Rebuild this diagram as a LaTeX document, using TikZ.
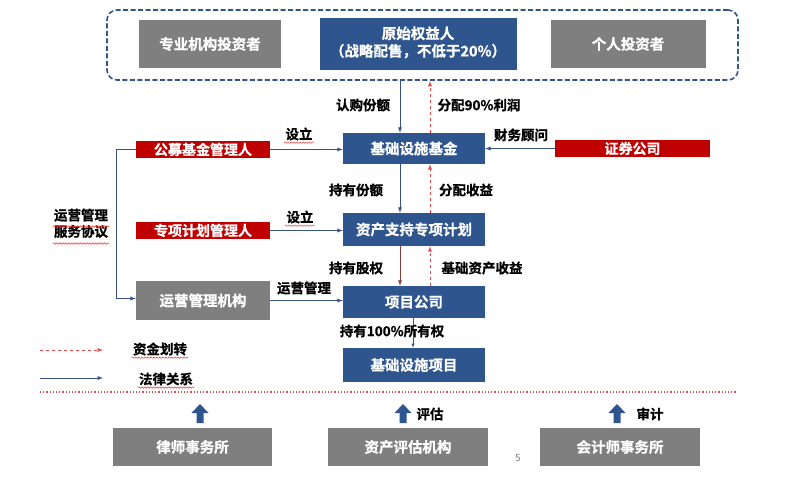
\documentclass[tikz,border=0pt]{standalone}
\usepackage{fontspec}
\setmainfont{Noto Sans CJK SC}[BoldFont={Noto Sans CJK SC Bold}, BoldFeatures={FakeBold=0.8}]
\usetikzlibrary{shapes,arrows}
\usetikzlibrary{calc,decorations.pathmorphing}
\definecolor{myblue}{RGB}{47,85,143}
\definecolor{mygray}{RGB}{127,127,127}
\definecolor{myred}{RGB}{192,0,0}
\definecolor{lawblue}{RGB}{55,80,135}
\definecolor{cashred}{RGB}{222,75,75}
\definecolor{myrust}{RGB}{140,62,58}

\begin{document}
\begin{tikzpicture}[x=1pt,y=-1pt]

\tikzstyle{blue_block} = [draw=none, fill=myblue, text=white, font=\bfseries\fontsize{14.5}{17}\selectfont,
inner sep=0, minimum width=142, minimum height=32]
\tikzstyle{gray_block} = [draw=none, fill=mygray, text=white, font=\bfseries\fontsize{14.5}{17}\selectfont,
inner sep=0, minimum width=142, minimum height=48]
\tikzstyle{red_block} = [draw=none, fill=myred, text=white, font=\bfseries\fontsize{14}{15}\selectfont,
inner sep=0, minimum width=134, minimum height=17]
\tikzstyle{frame} = [draw=myblue, dash pattern=on 5pt off 2.5pt, line width=1.6, rounded corners=10, minimum width=631, minimum height=70]
\tikzstyle{lbl} = [font=\bfseries\fontsize{13.5}{16}\selectfont, inner sep=1]
\tikzstyle{law} = [draw=lawblue, line width=0.9, -latex]
\tikzstyle{own} = [draw=myrust, line width=0.9, -latex]
\tikzstyle{cash} = [draw=cashred, dashed, line width=0.9, -latex]
\tikzstyle{squiggle} = [draw=red!85, line width=0.5, decorate, decoration={snake, amplitude=0.7, segment length=3}]

\useasboundingbox (0,0) rectangle (800,486);

% investors
\node [frame] (tz) at (422.5,45) {};
\node [gray_block] (zy) at (210,44) {专业机构投资者};
\node [blue_block, minimum width=197, minimum height=52] (ys) at (418,44)
  {\begin{tabular}{c} 原始权益人\\ （战略配售，不低于20\%）\end{tabular}};
\node [gray_block, minimum width=155] (gr) at (628,44) {个人投资者};

% main chain
\node [blue_block, minimum height=31] (fund) at (414,148.5) {基础设施基金};
\node [blue_block, minimum height=33] (abs) at (414,229.5) {资产支持专项计划};
\node [blue_block] (xm) at (414,302) {项目公司};
\node [blue_block, minimum height=34] (jc) at (414,365) {基础设施项目};

% managers
\node [red_block] (gm) at (203,149.5) {公募基金管理人};
\node [red_block] (zx) at (203,230.5) {专项计划管理人};
\node [gray_block, minimum width=134, minimum height=39] (yy) at (203,300.5) {运营管理机构};
\node [red_block, minimum width=155] (zq) at (632.5,148.5) {证券公司};

% links
\draw [law] ([xshift=-14pt]fund.north |- tz.south) -- ([xshift=-14pt]fund.north);
\draw [cash] ([xshift=16pt]fund.north) -- ([xshift=16pt]fund.north |- tz.south);
\draw [law] ([xshift=-14pt]fund.south) -- ([xshift=-14pt]abs.north);
\draw [cash] ([xshift=16pt]abs.north) -- ([xshift=16pt]fund.south);
\draw [own] ([xshift=-14pt]abs.south) -- ([xshift=-14pt]xm.north);
\draw [cash] ([xshift=16pt]xm.north) -- ([xshift=16pt]abs.south);
\draw [law, line width=0.5] ([xshift=-1pt]xm.south) -- ([xshift=-1pt]jc.north);

\draw [law] (gm.east) -- (gm.east -| fund.west);
\draw [law] (zq.west) -- (zq.west -| fund.east);
\draw [law] (zx.east) -- (zx.east -| abs.west);
\draw [law] (yy.east) -- (yy.east -| xm.west);
\draw [law] (gm.west) -- ++(-19,0) |- ([yshift=2pt]yy.west);

% labels
\node [lbl] (l1) at (363,105) {认购份额};
\node [lbl] (l2) at (479,105) {分配90\%利润};
\node [lbl] (l3) at (299,134) {设立};
\node [lbl] (l4) at (521,135) {财务顾问};
\node [lbl] (l5) at (356,190) {持有份额};
\node [lbl] (l6) at (466,190) {分配收益};
\node [lbl] (l7) at (300,217) {设立};
\node [lbl] (l8) at (356,268) {持有股权};
\node [lbl] (l9) at (482,268) {基础资产收益};
\node [lbl] (l10) at (304,288) {运营管理};
\node [lbl] (l11) at (392,331) {持有100\%所有权};
\node [lbl] (l12) at (81,225) {\begin{tabular}{@{}c@{}} 运营管理\\ 服务协议\end{tabular}};

\draw [squiggle] ([yshift=-1pt]l3.south west) -- ([yshift=-1pt]l3.south east);
\draw [squiggle] ([yshift=-1pt]l7.south west) -- ([yshift=-1pt]l7.south east);
\draw [squiggle] ([yshift=16pt]l12.south west) -- ([yshift=16pt]l12.south east);
\draw [squiggle] ([yshift=-1pt]l12.south west) -- ([yshift=-1pt]l12.south east);

% legend
\coordinate (c1) at (40,350);
\coordinate (c2) at (103,350);
\coordinate (c3) at (40,378);
\coordinate (c4) at (103,378);
\draw [cash] (c1) -- (c2);
\draw [law] (c3) -- (c4);
\node [lbl] (l13) at (160,349) {资金划转};
\node [lbl] (l14) at (166,379) {法律关系};
\draw [squiggle] ([yshift=-1pt]l13.south west) -- ([yshift=-1pt]l13.south east);
\draw [squiggle] ([yshift=-1pt]l14.south west) -- ([yshift=-1pt]l14.south east);

% separator
\coordinate (s1) at (40,392);
\coordinate (s2) at (736,392);
\draw [cashred, line width=1.2, dotted] (s1) -- (s2);

% service providers
\foreach \ax in {200,403,617}
  \fill [myblue] (\ax,404) -- (\ax+8.5,413) -- (\ax+3.5,413) -- (\ax+3.5,423)
    -- (\ax-3.5,423) -- (\ax-3.5,413) -- (\ax-8.5,413) -- cycle;
\node [gray_block, minimum width=159, minimum height=38] (ls) at (192.5,447) {律师事务所};
\node [gray_block, minimum width=160, minimum height=38] (pg) at (408,447) {资产评估机构};
\node [gray_block, minimum width=160, minimum height=38] (kj) at (620,447) {会计师事务所};
\node [lbl] (l15) at (430,414) {评估};
\node [lbl] (l16) at (650,414) {审计};
\node [font=\fontsize{10}{12}\selectfont, text=black!50] (pn) at (518,458) {5};

\end{tikzpicture}
\end{document}
